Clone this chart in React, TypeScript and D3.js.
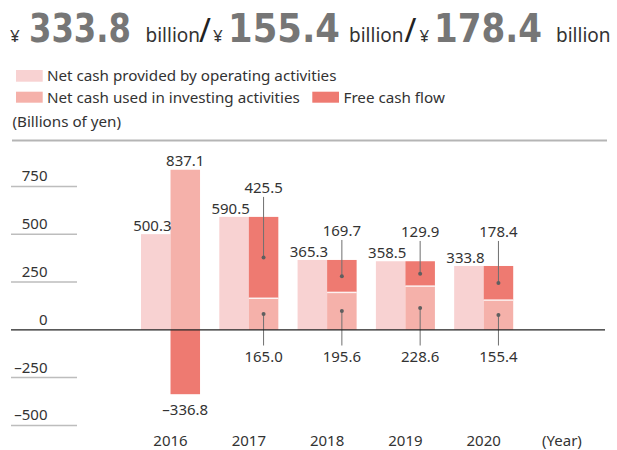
import React from "react";
import * as d3 from "d3";

const years = ["2016", "2017", "2018", "2019", "2020"];
const operating = [500.3, 590.5, 365.3, 358.5, 333.8];
const investing = [837.1, 165.0, 195.6, 228.6, 155.4];
const freeCash = [-336.8, 425.5, 169.7, 129.9, 178.4];
const yTicks = [750, 500, 250, 0, -250, -500];
const xCategories = [...years, "(Year)"];
const legendItems = [
  "Net cash provided by operating activities",
  "Net cash used in investing activities",
  "Free cash flow",
];
const headline = [
  { value: "333.8", unit: "billion" },
  { value: "155.4", unit: "billion" },
  { value: "178.4", unit: "billion" },
];

const W = 617;
const H = 450;
const C_OP = "#f8d2d2";
const C_INV = "#f5b1aa";
const C_FCF = "#ee7a71";
const TXT = "#333";
const FONT = "'Noto Sans', 'Open Sans', sans-serif";

const fmt = (v: number) => (v < 0 ? "\u2013" + Math.abs(v).toFixed(1) : v.toFixed(1));
const fmtTick = (v: number) => (v < 0 ? "\u2013" + Math.abs(v) : String(v));

export default function App() {
  const y = d3.scaleLinear().domain([-500, 750]).range([425.4, 186.4]);
  const x = d3
    .scaleBand<string>()
    .domain(xCategories)
    .range([141, 591.5])
    .paddingInner(0.246)
    .paddingOuter(0);
  const bw = x.bandwidth() / 2;

  const headPos = [
    { yen: 10, num: 29, numW: 102, unit: 145.5, slash: 199 },
    { yen: 213, num: 228, numW: 112, unit: 349, slash: 404.5 },
    { yen: 419.5, num: 434, numW: 108, unit: 556, slash: null as number | null },
  ];

  return (
    <svg
      width={W}
      height={H}
      style={{ position: "absolute", left: 0, top: 0, background: "#fff" }}
      fontFamily={FONT}
    >
      {headline.map((h, i) => {
        const p = headPos[i];
        return (
          <g key={i}>
            <text x={p.yen} y={42} fontSize={17} fill={TXT}>
              ¥
            </text>
            <text
              x={p.num}
              y={42.3}
              fontSize={39}
              fontWeight="bold"
              fill="#767676"
              fontFamily="'DejaVu Sans Condensed', 'DejaVu Sans', sans-serif"
              textLength={p.numW}
              lengthAdjust="spacingAndGlyphs"
            >
              {h.value}
            </text>
            <text x={p.unit} y={42.3} fontSize={19} fill={TXT}>
              {h.unit}
            </text>
            {p.slash !== null && (
              <text x={p.slash} y={42} fontSize={32} fill="#222">
                /
              </text>
            )}
          </g>
        );
      })}

      <g fontSize={15.2} fill={TXT}>
        <rect x={16} y={70} width={26.7} height={11.7} fill={C_OP} />
        <text x={47} y={81}>{legendItems[0]}</text>
        <rect x={16} y={91.7} width={26.7} height={11} fill={C_INV} />
        <text x={47} y={102.7}>{legendItems[1]}</text>
        <rect x={312.3} y={91.7} width={26.7} height={11} fill={C_FCF} />
        <text x={343.5} y={102.7}>{legendItems[2]}</text>
        <text x={12.5} y={126.7}>(Billions of yen)</text>
      </g>
      <line x1={12} x2={607} y1={140.5} y2={140.5} stroke="#b5b5b5" strokeWidth={1.8} />

      {yTicks.map((t) => (
        <g key={t}>
          {t !== 0 && (
            <line x1={11} x2={77} y1={y(t)} y2={y(t)} stroke="#bdbdbd" strokeWidth={1.5} />
          )}
          <text x={47.5} y={y(t) - 5} fontSize={15} fill={TXT} textAnchor="end">
            {fmtTick(t)}
          </text>
        </g>
      ))}

      {years.map((yr, i) => {
        const x0 = x(yr) as number;
        const xi = x0 + bw;
        const op = operating[i];
        const inv = investing[i];
        const fcf = freeCash[i];
        const cx = xi + bw / 2;
        if (fcf < 0) {
          return (
            <g key={yr}>
              <rect x={x0} y={y(op)} width={bw} height={y(0) - y(op)} fill={C_OP} />
              <rect x={xi} y={y(inv)} width={bw} height={y(0) - y(inv)} fill={C_INV} />
              <rect x={xi} y={y(0)} width={bw} height={y(fcf) - y(0)} fill={C_FCF} />
              <text x={x0 + bw + 1} y={y(op) - 3} fontSize={15} fill={TXT} textAnchor="end">
                {fmt(op)}
              </text>
              <text x={cx} y={y(inv) - 3.5} fontSize={15} fill={TXT} textAnchor="middle">
                {fmt(inv)}
              </text>
              <text x={cx} y={y(fcf) + 21} fontSize={15} fill={TXT} textAnchor="middle">
                {fmt(fcf)}
              </text>
            </g>
          );
        }
        const top = inv + fcf;
        const upY = Math.min(y(op), y(360)) - 24;
        const lowY = 361.5;
        const midF = y(inv + fcf / 2);
        const midI = y(inv / 2);
        return (
          <g key={yr}>
            <rect x={x0} y={y(op)} width={bw} height={y(0) - y(op)} fill={C_OP} />
            <rect x={xi} y={y(inv)} width={bw} height={y(0) - y(inv)} fill={C_INV} />
            <rect x={xi} y={y(top)} width={bw} height={y(inv) - y(top)} fill={C_FCF} />
            <line x1={xi} x2={xi + bw} y1={y(inv)} y2={y(inv)} stroke="#fff" strokeWidth={1.5} opacity={0.85} />
            <text x={x0 + bw + 1} y={y(op) - 3} fontSize={15} fill={TXT} textAnchor="end">
              {fmt(op)}
            </text>
            <line x1={cx} x2={cx} y1={upY + 4} y2={midF} stroke="#6f6f6f" strokeWidth={1} />
            <circle cx={cx} cy={midF} r={2} fill="#5f5f5f" />
            <text x={cx} y={upY} fontSize={15} fill={TXT} textAnchor="middle">
              {fmt(fcf)}
            </text>
            <line x1={cx} x2={cx} y1={midI} y2={lowY - 16} stroke="#6f6f6f" strokeWidth={1} />
            <circle cx={cx} cy={midI} r={2} fill="#5f5f5f" />
            <text x={cx} y={lowY} fontSize={15} fill={TXT} textAnchor="middle">
              {fmt(inv)}
            </text>
          </g>
        );
      })}

      <line x1={11} x2={605} y1={y(0)} y2={y(0)} stroke="#222" strokeWidth={1.2} />

      {xCategories.map((c) => (
        <text
          key={c}
          x={(x(c) as number) + x.bandwidth() / 2}
          y={446}
          fontSize={15}
          fill={TXT}
          textAnchor="middle"
        >
          {c}
        </text>
      ))}
    </svg>
  );
}
